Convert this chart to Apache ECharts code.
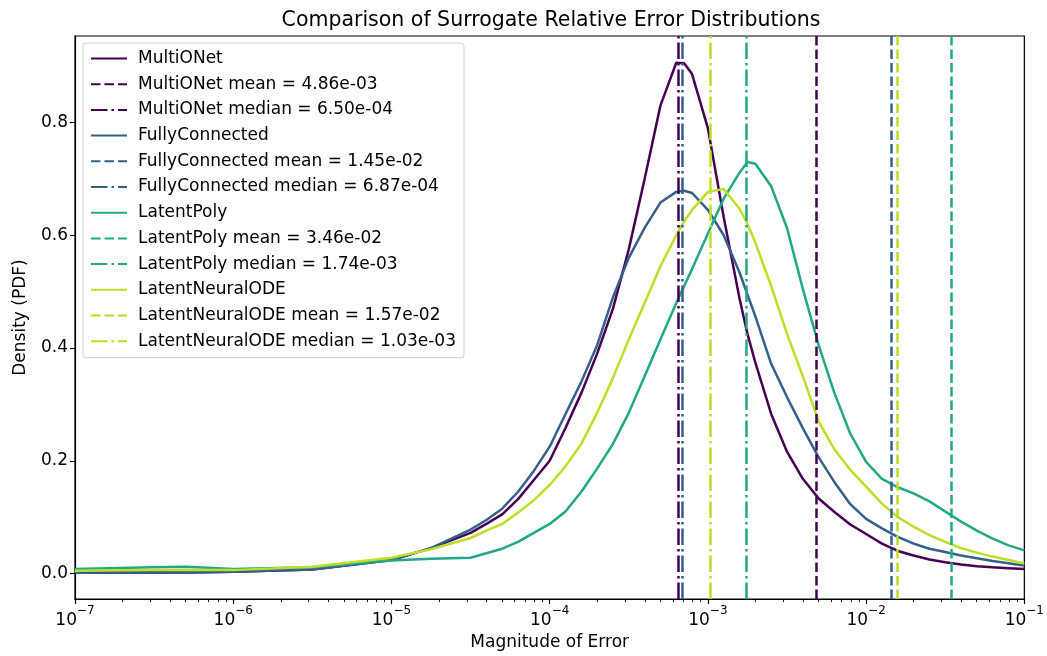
<!DOCTYPE html>
<html>
<head>
<meta charset="utf-8">
<script src="https://cdn.jsdelivr.net/npm/echarts@6/dist/echarts.min.js"></script>
<style>
  html, body { margin: 0; padding: 0; background: #fff; }
  #chart { width: 1047px; height: 656px; }
</style>
</head>
<body>
<div id="chart"></div>
<script>
// sample positions, as log10 of the error magnitude
var logErr = [-7, -6.5, -6.3, -6, -5.5, -5, -4.75, -4.5, -4.4, -4.3, -4.2, -4.1, -4.0, -3.9, -3.8, -3.7, -3.6, -3.5, -3.4, -3.3,
    -3.2, -3.15, -3.1, -3.0, -2.9, -2.8, -2.75, -2.7, -2.6, -2.5, -2.4, -2.3, -2.2, -2.1, -2.0, -1.9, -1.8, -1.7, -1.6, -1.5,
    -1.4, -1.3, -1.2, -1.1, -1.0];

// density
var multiONet = [0.002, 0.002, 0.002, 0.003, 0.007, 0.024, 0.045, 0.072, 0.088, 0.105, 0.132, 0.166, 0.200, 0.258, 0.320, 0.390, 0.470, 0.575, 0.700, 0.830,
    0.906, 0.905, 0.886, 0.790, 0.632, 0.488, 0.425, 0.374, 0.283, 0.216, 0.168, 0.133, 0.109, 0.087, 0.070, 0.053, 0.040, 0.032, 0.025, 0.020,
    0.016, 0.013, 0.011, 0.0095, 0.008];
var fullyConnected = [0.002, 0.002, 0.002, 0.003, 0.007, 0.024, 0.045, 0.078, 0.095, 0.115, 0.145, 0.182, 0.225, 0.283, 0.340, 0.405, 0.490, 0.560, 0.613, 0.658,
    0.677, 0.679, 0.675, 0.645, 0.600, 0.534, 0.495, 0.456, 0.372, 0.313, 0.258, 0.206, 0.162, 0.123, 0.097, 0.080, 0.065, 0.053, 0.044, 0.038,
    0.032, 0.027, 0.022, 0.018, 0.014];
var latentPoly = [0.008, 0.011, 0.012, 0.008, 0.011, 0.023, 0.026, 0.028, 0.036, 0.044, 0.056, 0.072, 0.088, 0.110, 0.145, 0.186, 0.230, 0.285, 0.350, 0.415,
    0.480, 0.510, 0.540, 0.603, 0.665, 0.711, 0.730, 0.727, 0.687, 0.613, 0.505, 0.405, 0.320, 0.248, 0.198, 0.168, 0.153, 0.142, 0.128, 0.110,
    0.092, 0.076, 0.062, 0.050, 0.041];
var latentNeuralODE = [0.005, 0.006, 0.006, 0.006, 0.012, 0.028, 0.043, 0.063, 0.076, 0.088, 0.108, 0.130, 0.157, 0.190, 0.230, 0.285, 0.347, 0.415, 0.480, 0.545,
    0.600, 0.625, 0.645, 0.677, 0.682, 0.647, 0.620, 0.587, 0.510, 0.425, 0.350, 0.270, 0.220, 0.184, 0.154, 0.124, 0.100, 0.083, 0.068, 0.056,
    0.045, 0.037, 0.030, 0.024, 0.018];

var modelNames = ["MultiONet", "FullyConnected", "LatentPoly", "LatentNeuralODE"];
var modelColors = ["#440154", "#355f8d", "#22a884", "#bddf26"];
var meanVals = [4.86e-3, 1.45e-2, 3.46e-2, 1.57e-2];
var medianVals = [6.50e-4, 6.87e-4, 1.74e-3, 1.03e-3];
var meanText = ["4.86e-03", "1.45e-02", "3.46e-02", "1.57e-02"];
var medianText = ["6.50e-04", "6.87e-04", "1.74e-03", "1.03e-03"];

var majorTicks = [1e-7, 1e-6, 1e-5, 1e-4, 1e-3, 1e-2, 1e-1];
var minorSteps = [2, 3, 4, 5, 6, 7, 8, 9];
var yTicks = [0, 0.2, 0.4, 0.6, 0.8];

var FONT = "DejaVu Sans";
var LW = 2.5;
var DASHED = [9.5, 4];
var DASHDOT = [16.5, 4, 2.5, 4];

function curvePoints(vals) {
    var pts = [];
    for (var i = 0; i < logErr.length; i++) {
        pts.push([Math.pow(10, logErr[i]), vals[i]]);
    }
    return pts;
}

var minorTicks = [];
majorTicks.slice(0, -1).forEach(function (d) {
    minorSteps.forEach(function (k) { minorTicks.push(k * d); });
});

function vline(name, color, x, dash) {
    return {
        name: name,
        type: "line",
        data: [],
        symbol: "none",
        color: color,
        lineStyle: {width: LW, color: color, type: dash},
        markLine: {
            silent: true, symbol: "none", animation: false, precision: 10,
            label: {show: false},
            lineStyle: {width: LW, color: color, type: dash},
            data: [{xAxis: x}]
        }
    };
}

var curves = [multiONet, fullyConnected, latentPoly, latentNeuralODE];
var series = [];
var legendNames = [];
for (var m = 0; m < modelNames.length; m++) {
    var c = modelColors[m];
    var meanName = modelNames[m] + " mean = " + meanText[m];
    var medName = modelNames[m] + " median = " + medianText[m];
    series.push({
        name: modelNames[m],
        type: "line",
        data: curvePoints(curves[m]),
        symbol: "none",
        color: c,
        lineStyle: {width: LW, color: c}
    });
    series.push(vline(meanName, c, meanVals[m], DASHED));
    series.push(vline(medName, c, medianVals[m], DASHDOT));
    legendNames.push(modelNames[m], meanName, medName);
}

var chart = echarts.init(document.getElementById("chart"), null, {renderer: "canvas"});
chart.setOption({
    animation: false,
    backgroundColor: "#fff",
    textStyle: {fontFamily: FONT},
    title: {
        text: "Comparison of Surrogate Relative Error Distributions",
        left: 546, top: 5, textAlign: "center",
        textStyle: {fontFamily: FONT, fontSize: 20.5, fontWeight: "normal", color: "#000"}
    },
    grid: {left: 75, right: 22, top: 36, bottom: 55, show: true, borderColor: "#000", borderWidth: 1.2, backgroundColor: "transparent"},
    legend: {
        orient: "vertical", left: 83, top: 43,
        data: legendNames,
        itemWidth: 36, itemHeight: 14, itemGap: 6.7,
        padding: [6, 8, 7, 7],
        backgroundColor: "rgba(255,255,255,0.8)",
        borderColor: "#d0d0d0", borderWidth: 1, borderRadius: 3,
        selectedMode: false,
        itemStyle: {opacity: 0},
        textStyle: {fontFamily: FONT, fontSize: 17, lineHeight: 19, color: "#000", padding: [0, 0, 0, 6]}
    },
    xAxis: [{
        type: "log", logBase: 10, min: 1e-7, max: 1e-1,
        name: "Magnitude of Error", nameLocation: "middle", nameGap: 34,
        nameTextStyle: {fontFamily: FONT, fontSize: 17, color: "#000"},
        axisLine: {show: true, onZero: false, lineStyle: {color: "#000", width: 1.2}},
        axisTick: {show: true, length: 5, lineStyle: {color: "#000", width: 1.2}, customValues: majorTicks},
        axisLabel: {
            customValues: majorTicks, margin: 6, color: "#000",
            formatter: function (v) {
                var e = Math.round(Math.log10(v));
                return "{b|10}{s|" + (e < 0 ? "\u2212" : "") + Math.abs(e) + "}";
            },
            rich: {
                b: {fontFamily: FONT, fontSize: 17, color: "#000", lineHeight: 24, verticalAlign: "bottom"},
                s: {fontFamily: FONT, fontSize: 12, color: "#000", lineHeight: 24, verticalAlign: "top"}
            }
        },
        splitLine: {show: false}
    }, {
        type: "log", logBase: 10, min: 1e-7, max: 1e-1, position: "bottom",
        axisLine: {show: false, onZero: false},
        axisTick: {show: true, length: 3, lineStyle: {color: "#000", width: 0.9}, customValues: minorTicks},
        axisLabel: {show: false},
        splitLine: {show: false}
    }],
    yAxis: {
        type: "value", min: -0.0454, max: 0.9535,
        name: "Density (PDF)", nameLocation: "middle", nameGap: 46,
        nameTextStyle: {fontFamily: FONT, fontSize: 17, color: "#000"},
        axisLine: {show: true, onZero: false, lineStyle: {color: "#000", width: 1.2}},
        axisTick: {show: true, length: 5, lineStyle: {color: "#000", width: 1.2}, customValues: yTicks},
        axisLabel: {
            customValues: yTicks, margin: 7, color: "#000", fontFamily: FONT, fontSize: 17,
            formatter: function (v) { return v.toFixed(1); }
        },
        splitLine: {show: false}
    },
    series: series
});
</script>
</body>
</html>
